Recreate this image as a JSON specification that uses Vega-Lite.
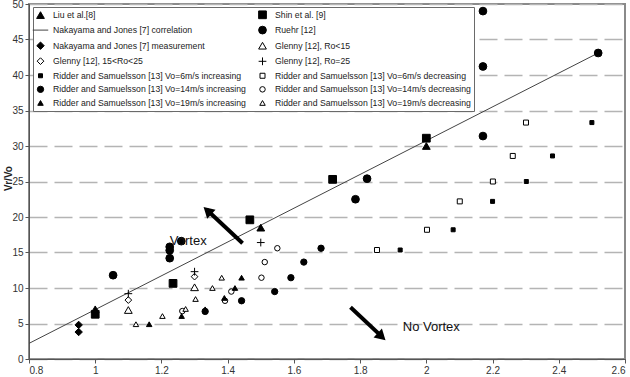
{
  "$schema": "https://vega.github.io/schema/vega-lite/v6.json",
  "width": 596,
  "height": 355,
  "autosize": {"type": "none"},
  "padding": {"left": 29, "top": 4, "right": 5, "bottom": 18},
  "background": "white",
  "config": {
    "font": "Liberation Sans",
    "view": {"stroke": "#8a8a8a", "strokeWidth": 2},
    "axis": {
      "domainColor": "#555",
      "tickColor": "#555",
      "tickSize": 4,
      "labelFont": "Liberation Sans",
      "labelFontSize": 10,
      "labelColor": "#333",
      "labelPadding": 2,
      "labelOverlap": false
    },
    "axisY": {
      "grid": true,
      "gridDash": [18, 7],
      "gridColor": "#b4b4b4",
      "gridWidth": 1.5,
      "titleFontSize": 10,
      "titleFontWeight": "bold",
      "titleColor": "#222",
      "titleX": -21,
      "titleY": 174,
      "titleAngle": 270,
      "titleAlign": "center",
      "titleBaseline": "middle"
    },
    "axisX": {
      "format": "~g",
      "grid": false
    },
    "legend": {
      "orient": "none",
      "legendX": 4,
      "legendY": 3,
      "columns": 2,
      "padding": 3,
      "strokeColor": "#6a6a6a",
      "fillColor": "white",
      "labelFont": "Liberation Sans",
      "labelFontSize": 8.7,
      "labelColor": "#222",
      "labelLimit": 320,
      "labelOffset": 8,
      "rowPadding": 2.6,
      "columnPadding": 10,
      "symbolStrokeWidth": 1
    }
  },
  "datasets": {
    "points": [
      {"series": "Liu et al.[8]", "x": 1.0, "y": 7.0},
      {"series": "Liu et al.[8]", "x": 1.5, "y": 18.5},
      {"series": "Liu et al.[8]", "x": 2.0, "y": 30.0},
      {"series": "Shin et al. [9]", "x": 1.0, "y": 6.3},
      {"series": "Shin et al. [9]", "x": 1.235, "y": 10.65},
      {"series": "Shin et al. [9]", "x": 1.467, "y": 19.6},
      {"series": "Shin et al. [9]", "x": 1.717, "y": 25.3},
      {"series": "Shin et al. [9]", "x": 2.0, "y": 31.1},
      {"series": "Nakayama and Jones [7] measurement", "x": 0.95, "y": 4.8},
      {"series": "Nakayama and Jones [7] measurement", "x": 0.95, "y": 3.8},
      {"series": "Ruehr [12]", "x": 1.054, "y": 11.8},
      {"series": "Ruehr [12]", "x": 1.225, "y": 15.8},
      {"series": "Ruehr [12]", "x": 1.225, "y": 15.3},
      {"series": "Ruehr [12]", "x": 1.225, "y": 14.2},
      {"series": "Ruehr [12]", "x": 1.26, "y": 16.6},
      {"series": "Ruehr [12]", "x": 1.786, "y": 22.5},
      {"series": "Ruehr [12]", "x": 1.821, "y": 25.4},
      {"series": "Ruehr [12]", "x": 2.171, "y": 49.0},
      {"series": "Ruehr [12]", "x": 2.171, "y": 41.2},
      {"series": "Ruehr [12]", "x": 2.171, "y": 31.4},
      {"series": "Ruehr [12]", "x": 2.519, "y": 43.1},
      {"series": "Glenny [12], Ro<15", "x": 1.1, "y": 6.9},
      {"series": "Glenny [12], Ro<15", "x": 1.3, "y": 10.1},
      {"series": "Glenny [12], 15<Ro<25", "x": 1.1, "y": 8.3},
      {"series": "Glenny [12], 15<Ro<25", "x": 1.3, "y": 11.6},
      {"series": "Glenny [12], Ro=25", "x": 1.1, "y": 9.2},
      {"series": "Glenny [12], Ro=25", "x": 1.3, "y": 12.3},
      {"series": "Glenny [12], Ro=25", "x": 1.5, "y": 16.4},
      {"series": "Ridder and Samuelsson [13] Vo=6m/s increasing", "x": 1.921, "y": 15.35},
      {"series": "Ridder and Samuelsson [13] Vo=6m/s increasing", "x": 2.081, "y": 18.2},
      {"series": "Ridder and Samuelsson [13] Vo=6m/s increasing", "x": 2.2, "y": 22.2},
      {"series": "Ridder and Samuelsson [13] Vo=6m/s increasing", "x": 2.302, "y": 25.0},
      {"series": "Ridder and Samuelsson [13] Vo=6m/s increasing", "x": 2.381, "y": 28.6},
      {"series": "Ridder and Samuelsson [13] Vo=6m/s increasing", "x": 2.5, "y": 33.3},
      {"series": "Ridder and Samuelsson [13] Vo=6m/s decreasing", "x": 1.851, "y": 15.35},
      {"series": "Ridder and Samuelsson [13] Vo=6m/s decreasing", "x": 2.002, "y": 18.2},
      {"series": "Ridder and Samuelsson [13] Vo=6m/s decreasing", "x": 2.101, "y": 22.2},
      {"series": "Ridder and Samuelsson [13] Vo=6m/s decreasing", "x": 2.201, "y": 25.0},
      {"series": "Ridder and Samuelsson [13] Vo=6m/s decreasing", "x": 2.261, "y": 28.6},
      {"series": "Ridder and Samuelsson [13] Vo=6m/s decreasing", "x": 2.301, "y": 33.3},
      {"series": "Ridder and Samuelsson [13] Vo=14m/s increasing", "x": 1.332, "y": 6.7},
      {"series": "Ridder and Samuelsson [13] Vo=14m/s increasing", "x": 1.442, "y": 8.2},
      {"series": "Ridder and Samuelsson [13] Vo=14m/s increasing", "x": 1.542, "y": 9.5},
      {"series": "Ridder and Samuelsson [13] Vo=14m/s increasing", "x": 1.591, "y": 11.45},
      {"series": "Ridder and Samuelsson [13] Vo=14m/s increasing", "x": 1.63, "y": 13.65},
      {"series": "Ridder and Samuelsson [13] Vo=14m/s increasing", "x": 1.682, "y": 15.6},
      {"series": "Ridder and Samuelsson [13] Vo=14m/s decreasing", "x": 1.263, "y": 6.75},
      {"series": "Ridder and Samuelsson [13] Vo=14m/s decreasing", "x": 1.392, "y": 8.2},
      {"series": "Ridder and Samuelsson [13] Vo=14m/s decreasing", "x": 1.411, "y": 9.5},
      {"series": "Ridder and Samuelsson [13] Vo=14m/s decreasing", "x": 1.502, "y": 11.45},
      {"series": "Ridder and Samuelsson [13] Vo=14m/s decreasing", "x": 1.512, "y": 13.65},
      {"series": "Ridder and Samuelsson [13] Vo=14m/s decreasing", "x": 1.55, "y": 15.6},
      {"series": "Ridder and Samuelsson [13] Vo=19m/s increasing", "x": 1.163, "y": 4.9},
      {"series": "Ridder and Samuelsson [13] Vo=19m/s increasing", "x": 1.261, "y": 6.05},
      {"series": "Ridder and Samuelsson [13] Vo=19m/s increasing", "x": 1.332, "y": 7.0},
      {"series": "Ridder and Samuelsson [13] Vo=19m/s increasing", "x": 1.39, "y": 8.6},
      {"series": "Ridder and Samuelsson [13] Vo=19m/s increasing", "x": 1.422, "y": 10.0},
      {"series": "Ridder and Samuelsson [13] Vo=19m/s increasing", "x": 1.442, "y": 11.45},
      {"series": "Ridder and Samuelsson [13] Vo=19m/s decreasing", "x": 1.123, "y": 4.9},
      {"series": "Ridder and Samuelsson [13] Vo=19m/s decreasing", "x": 1.203, "y": 6.05},
      {"series": "Ridder and Samuelsson [13] Vo=19m/s decreasing", "x": 1.273, "y": 7.05},
      {"series": "Ridder and Samuelsson [13] Vo=19m/s decreasing", "x": 1.303, "y": 8.45},
      {"series": "Ridder and Samuelsson [13] Vo=19m/s decreasing", "x": 1.354, "y": 10.0},
      {"series": "Ridder and Samuelsson [13] Vo=19m/s decreasing", "x": 1.382, "y": 11.45}
    ],
    "correlation": [
      {"x": 0.8, "y": 2.2},
      {"x": 2.519, "y": 43.1}
    ],
    "arrows": [
      {"x": 1.445, "y": 16.3, "x2": 1.336, "y2": 21.05},
      {"x": 1.771, "y": 7.3, "x2": 1.868, "y2": 3.05}
    ],
    "notes": [
      {"x": 1.281, "y": 16.6, "text": "Vortex"},
      {"x": 2.015, "y": 4.5, "text": "No Vortex"}
    ]
  },
  "layer": [
    {
      "data": {"name": "correlation"},
      "mark": {"type": "line", "color": "#444", "strokeWidth": 1},
      "encoding": {
        "x": {"field": "x", "type": "quantitative", "title": null, "scale": {"domain": [0.8, 2.6], "nice": false, "zero": false}, "axis": {"values": [0.8, 1, 1.2, 1.4, 1.6, 1.8, 2, 2.2, 2.4, 2.6]}},
        "y": {"field": "y", "type": "quantitative", "title": "Vr/Vo", "scale": {"domain": [0, 50], "nice": false}, "axis": {"values": [0, 5, 10, 15, 20, 25, 30, 35, 40, 45, 50]}}
      }
    },
    {
      "data": {"name": "points"},
      "mark": {"type": "point", "filled": false, "strokeWidth": 1, "opacity": 1},
      "encoding": {
        "x": {"field": "x", "type": "quantitative", "title": null, "axis": {"values": [0.8, 1, 1.2, 1.4, 1.6, 1.8, 2, 2.2, 2.4, 2.6]}},
        "y": {"field": "y", "type": "quantitative", "title": "Vr/Vo", "axis": {"values": [0, 5, 10, 15, 20, 25, 30, 35, 40, 45, 50]}},
        "shape": {
          "field": "series", "type": "nominal", "title": null,
          "scale": {
            "domain": ["Liu et al.[8]", "Nakayama and Jones [7] correlation", "Nakayama and Jones [7] measurement", "Glenny [12], 15<Ro<25", "Ridder and Samuelsson [13] Vo=6m/s increasing", "Ridder and Samuelsson [13] Vo=14m/s increasing", "Ridder and Samuelsson [13] Vo=19m/s increasing", "Shin et al. [9]", "Ruehr [12]", "Glenny [12], Ro<15", "Glenny [12], Ro=25", "Ridder and Samuelsson [13] Vo=6m/s decreasing", "Ridder and Samuelsson [13] Vo=14m/s decreasing", "Ridder and Samuelsson [13] Vo=19m/s decreasing"],
            "range": ["triangle-up", "M-2,0H2", "diamond", "diamond", "square", "circle", "triangle-up", "square", "circle", "triangle-up", "M-1,0H1M0,-1V1", "square", "circle", "triangle-up"]
          }
        },
        "fill": {
          "field": "series", "type": "nominal", "title": null,
          "scale": {
            "domain": ["Liu et al.[8]", "Nakayama and Jones [7] correlation", "Nakayama and Jones [7] measurement", "Glenny [12], 15<Ro<25", "Ridder and Samuelsson [13] Vo=6m/s increasing", "Ridder and Samuelsson [13] Vo=14m/s increasing", "Ridder and Samuelsson [13] Vo=19m/s increasing", "Shin et al. [9]", "Ruehr [12]", "Glenny [12], Ro<15", "Glenny [12], Ro=25", "Ridder and Samuelsson [13] Vo=6m/s decreasing", "Ridder and Samuelsson [13] Vo=14m/s decreasing", "Ridder and Samuelsson [13] Vo=19m/s decreasing"],
            "range": ["#000", "transparent", "#000", "white", "#000", "#000", "#000", "#000", "#000", "white", "transparent", "white", "white", "white"]
          }
        },
        "stroke": {
          "field": "series", "type": "nominal", "title": null,
          "scale": {
            "domain": ["Liu et al.[8]", "Nakayama and Jones [7] correlation", "Nakayama and Jones [7] measurement", "Glenny [12], 15<Ro<25", "Ridder and Samuelsson [13] Vo=6m/s increasing", "Ridder and Samuelsson [13] Vo=14m/s increasing", "Ridder and Samuelsson [13] Vo=19m/s increasing", "Shin et al. [9]", "Ruehr [12]", "Glenny [12], Ro<15", "Glenny [12], Ro=25", "Ridder and Samuelsson [13] Vo=6m/s decreasing", "Ridder and Samuelsson [13] Vo=14m/s decreasing", "Ridder and Samuelsson [13] Vo=19m/s decreasing"],
            "range": ["#000", "#444", "#000", "#000", "#000", "#000", "#000", "#000", "#000", "#000", "#000", "#000", "#000", "#000"]
          }
        },
        "size": {
          "field": "series", "type": "nominal", "title": null,
          "scale": {
            "type": "ordinal",
            "domain": ["Liu et al.[8]", "Nakayama and Jones [7] correlation", "Nakayama and Jones [7] measurement", "Glenny [12], 15<Ro<25", "Ridder and Samuelsson [13] Vo=6m/s increasing", "Ridder and Samuelsson [13] Vo=14m/s increasing", "Ridder and Samuelsson [13] Vo=19m/s increasing", "Shin et al. [9]", "Ruehr [12]", "Glenny [12], Ro<15", "Glenny [12], Ro=25", "Ridder and Samuelsson [13] Vo=6m/s decreasing", "Ridder and Samuelsson [13] Vo=14m/s decreasing", "Ridder and Samuelsson [13] Vo=19m/s decreasing"],
            "range": [60, 60, 55, 45, 16, 40, 30, 60, 60, 60, 60, 25, 30, 30]
          }
        }
      }
    },
    {
      "data": {"name": "arrows"},
      "mark": {"type": "rule", "color": "#000", "strokeWidth": 4},
      "encoding": {
        "x": {"field": "x", "type": "quantitative", "title": null, "axis": {"values": [0.8, 1, 1.2, 1.4, 1.6, 1.8, 2, 2.2, 2.4, 2.6]}},
        "y": {"field": "y", "type": "quantitative", "title": "Vr/Vo", "axis": {"values": [0, 5, 10, 15, 20, 25, 30, 35, 40, 45, 50]}},
        "x2": {"field": "x2"},
        "y2": {"field": "y2"}
      }
    },
    {
      "data": {"values": [{"x": 1.339, "y": 20.9}]},
      "mark": {"type": "point", "shape": "triangle-up", "filled": true, "color": "#000", "opacity": 1, "size": 150, "angle": 313},
      "encoding": {
        "x": {"field": "x", "type": "quantitative", "title": null, "axis": {"values": [0.8, 1, 1.2, 1.4, 1.6, 1.8, 2, 2.2, 2.4, 2.6]}},
        "y": {"field": "y", "type": "quantitative", "title": "Vr/Vo", "axis": {"values": [0, 5, 10, 15, 20, 25, 30, 35, 40, 45, 50]}}
      }
    },
    {
      "data": {"values": [{"x": 1.865, "y": 3.15}]},
      "mark": {"type": "point", "shape": "triangle-up", "filled": true, "color": "#000", "opacity": 1, "size": 150, "angle": 133},
      "encoding": {
        "x": {"field": "x", "type": "quantitative", "title": null, "axis": {"values": [0.8, 1, 1.2, 1.4, 1.6, 1.8, 2, 2.2, 2.4, 2.6]}},
        "y": {"field": "y", "type": "quantitative", "title": "Vr/Vo", "axis": {"values": [0, 5, 10, 15, 20, 25, 30, 35, 40, 45, 50]}}
      }
    },
    {
      "data": {"name": "notes"},
      "mark": {"type": "text", "font": "Liberation Sans", "fontSize": 13, "color": "#111", "align": "center", "baseline": "middle"},
      "encoding": {
        "x": {"field": "x", "type": "quantitative", "title": null, "axis": {"values": [0.8, 1, 1.2, 1.4, 1.6, 1.8, 2, 2.2, 2.4, 2.6]}},
        "y": {"field": "y", "type": "quantitative", "title": "Vr/Vo", "axis": {"values": [0, 5, 10, 15, 20, 25, 30, 35, 40, 45, 50]}},
        "text": {"field": "text"}
      }
    }
  ]
}
